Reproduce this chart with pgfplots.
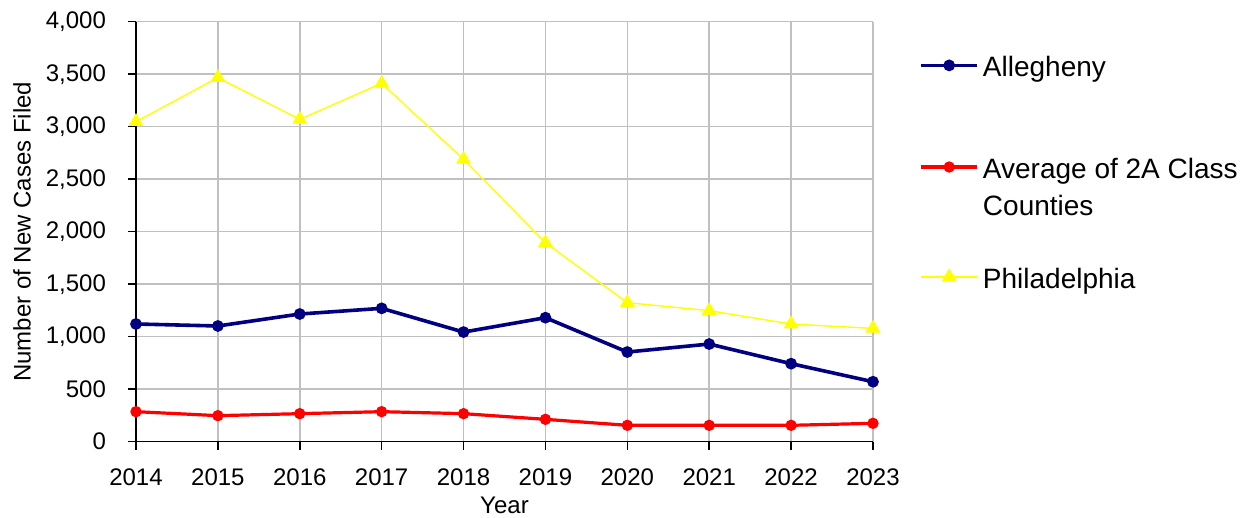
\documentclass[border=0pt]{standalone}
\usepackage{fontspec}
\setmainfont{Liberation Sans}
\usepackage{pgfplots}
\pgfplotsset{compat=1.18}
\definecolor{navyblue}{HTML}{000080}
\definecolor{gridgray}{HTML}{C0C0C0}
\definecolor{pyellow}{HTML}{FFFF00}
\definecolor{pred}{HTML}{FF0000}

\pgfplotstableread{
year alle avg phil
2014 1121 286 3048
2015 1102 248 3467
2016 1216 267 3070
2017 1270 286 3413
2018 1044 267 2689
2019 1181 213 1895
2020 854 156 1324
2021 930 156 1248
2022 743 156 1121
2023 571 175 1079
}\datatable

\begin{document}
\begin{tikzpicture}
\begin{axis}[
  scale only axis, width=368.5pt, height=210pt,
  xmin=2014, xmax=2023, ymin=0, ymax=4000,
  xtick={2014,2015,...,2023}, ytick={0,500,...,4000},
  /pgf/number format/assume math mode=true,
  scaled y ticks=false,
  x tick label style={/pgf/number format/1000 sep={}, yshift=-6pt},
  y tick label style={/pgf/number format/1000 sep={,}, xshift=-7.5pt},
  tick label style={font=\fontsize{12}{14}\selectfont, black},
  every axis x label/.style={at={(axis description cs:0.5,-0.152)}, anchor=center, font=\fontsize{12}{14}\selectfont},
  every axis y label/.style={at={(axis description cs:-0.1547,0.5)}, rotate=90, anchor=center, font=\fontsize{12}{14}\selectfont},
  xlabel={Year}, ylabel={Number of New Cases Filed},
  grid=major, major grid style={gridgray, line width=0.8pt},
  axis x line*=bottom, axis y line*=left,
  axis line style={black, line width=0.75pt, -},
  tick align=outside, major tick length=4pt,
  major tick style={black, line width=0.75pt},
  legend cell align=left,
  legend image code/.code={\draw[mark repeat=2,mark phase=2] plot coordinates {(0pt,5.8pt)(14pt,5.8pt)(28pt,5.8pt)};},
  legend style={at={(1,1)}, anchor=north west, xshift=23pt, yshift=-17.3pt,
    draw=none, fill=none, inner sep=0pt, row sep=21pt, column sep=2pt,
    font=\fontsize{14}{18.3}\selectfont,
    cells={anchor=base west},
    nodes={inner sep=0pt, text depth=}},
]
\addplot[navyblue, line width=1.8pt, mark=*, mark size=2pt, mark options={solid, fill=navyblue}] table[x=year, y=alle] {\datatable};
\addlegendentry{Allegheny\rule[-17pt]{0pt}{17pt}}
\addplot[pred, line width=1.6pt, mark=*, mark size=2pt, mark options={solid, fill=pred}] table[x=year, y=avg] {\datatable};
\addlegendentry{\begin{tabular}[t]{@{}l@{}}Average of 2A Class\\Counties\end{tabular}}
\addplot[pyellow, line width=0.7pt, mark=triangle*, mark size=3.6pt, mark options={solid, fill=pyellow}] table[x=year, y=phil] {\datatable};
\addlegendentry{Philadelphia}
\end{axis}
\pgfresetboundingbox
\path (-68pt,-38.15pt) rectangle (559.5pt,220.85pt);
\end{tikzpicture}
\end{document}
